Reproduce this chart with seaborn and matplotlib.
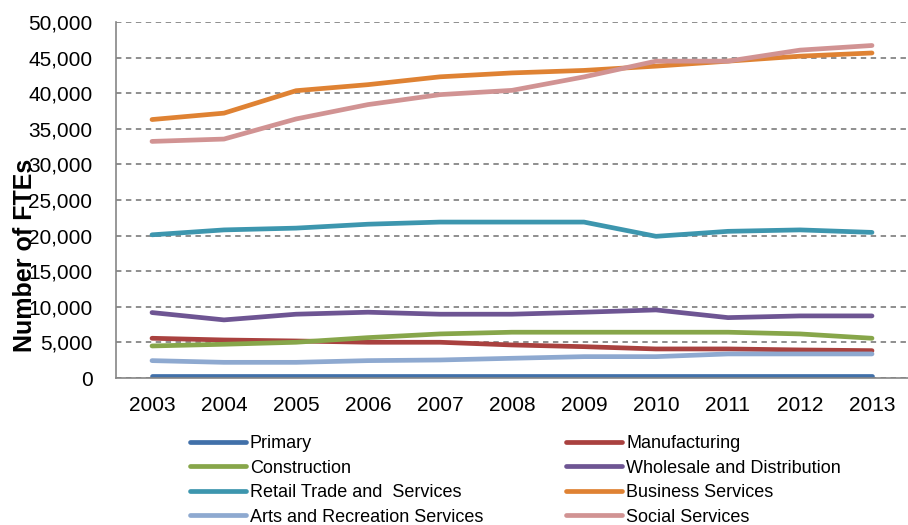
import matplotlib
matplotlib.use('Agg')
import matplotlib.pyplot as plt
import seaborn as sns
import pandas as pd
from matplotlib.ticker import FuncFormatter

years = list(range(2003, 2014))

sectors = ['Primary', 'Manufacturing', 'Construction', 'Wholesale and Distribution',
           'Retail Trade and  Services', 'Business Services',
           'Arts and Recreation Services', 'Social Services']

primary = [250, 250, 250, 250, 250, 250, 250, 250, 250, 250, 250]
manufacturing = [5580, 5340, 5200, 5020, 5020, 4640, 4400, 4080, 4080, 3940, 3840]
construction = [4500, 4740, 5020, 5670, 6190, 6430, 6430, 6430, 6430, 6190, 5580]
wholesale = [9190, 8160, 8960, 9240, 8960, 8960, 9240, 9560, 8480, 8720, 8720]
retail = [20110, 20800, 21050, 21600, 21900, 21900, 21900, 19900, 20600, 20800, 20450]
business = [36300, 37200, 40350, 41200, 42300, 42850, 43200, 43800, 44500, 45200, 45650]
arts = [2440, 2200, 2200, 2440, 2530, 2770, 3000, 3000, 3380, 3380, 3380]
social = [33230, 33560, 36380, 38400, 39800, 40400, 42290, 44500, 44500, 46050, 46700]

colors = ['#4170A9', '#A9413F', '#87A64A', '#6E5593',
          '#3D96AE', '#DF8233', '#8EA9D0', '#D19393']

series = [primary, manufacturing, construction, wholesale, retail, business, arts, social]

rows = []
for name, vals in zip(sectors, series):
    for y, v in zip(years, vals):
        rows.append({'Year': y, 'Sector': name, 'FTEs': v})
df = pd.DataFrame(rows)

sns.set_theme(style='white')
plt.rcParams['font.family'] = ['Liberation Sans', 'DejaVu Sans']
plt.rcParams['text.color'] = 'black'

fig = plt.figure(figsize=(9.08, 5.25), dpi=100)
ax = fig.add_axes([116 / 908, 1 - 378 / 525, 792 / 908, 356 / 525])

sns.lineplot(data=df, x='Year', y='FTEs', hue='Sector', hue_order=sectors,
             palette=dict(zip(sectors, colors)), linewidth=3.4, ax=ax,
             solid_capstyle='round')

ax.set_xlim(2002.5, 2013.5)
ax.set_ylim(0, 50000)
ax.set_xticks(years)
ax.set_yticks(range(0, 50001, 5000))
ax.yaxis.set_major_formatter(FuncFormatter(lambda v, p: f'{int(v):,}'))
ax.tick_params(axis='both', length=0, labelsize=15, colors='black')
ax.tick_params(axis='y', pad=17)
ax.tick_params(axis='x', pad=13)
ax.set_xlabel('')
ax.set_ylabel('')

# dashed horizontal gridlines like the Excel original
ax.yaxis.grid(True, color='#868686', linestyle=(0, (3, 2.5)), linewidth=1.3)
ax.set_axisbelow(True)
for s in ['top', 'right']:
    ax.spines[s].set_visible(False)
for s in ['left', 'bottom']:
    ax.spines[s].set_color('#868686')
    ax.spines[s].set_linewidth(1.2)

fig.text(25 / 908, 1 - 255 / 525, 'Number of FTEs', rotation=90, ha='center',
         va='center', fontsize=18, fontweight='bold', color='black')

handles, labels = ax.get_legend_handles_labels()
ax.get_legend().remove()
order = [0, 2, 4, 6, 1, 3, 5, 7]
fig.legend([handles[i] for i in order], [labels[i] for i in order], ncol=2,
           loc='upper left', bbox_to_anchor=(190 / 908, 1 - 435 / 525),
           frameon=False, borderpad=0, borderaxespad=0, handlelength=3.1,
           handletextpad=0.22, columnspacing=4.6, labelspacing=0.42, fontsize=13,
           labelcolor='black')

plt.savefig('out.png', dpi=100)
plt.close()
